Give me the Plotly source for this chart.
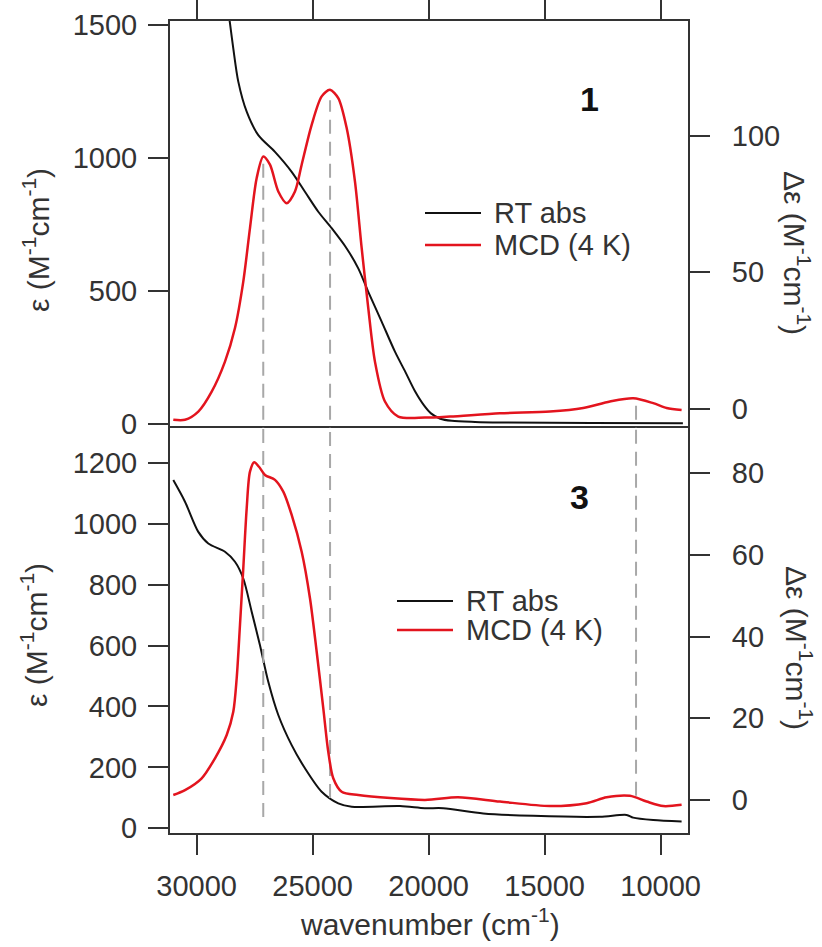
import plotly.graph_objects as go

# ---------------- data ----------------
# Panel 1 : RT absorption (left axis, eps) and MCD 4 K (right axis, delta eps)
abs1_wn = [28650, 28564, 28422, 28206, 27844, 27344, 26625, 25905, 25332, 24758,
           24181, 23534, 23034, 22603, 22026, 21453, 21000, 20600, 20200, 19900,
           19500, 19000, 18000, 16927, 13000, 9040]
abs1_eps = [1560, 1506, 1412, 1287, 1174, 1086, 1023, 948, 873, 798,
            736, 660, 585, 497, 385, 272, 195, 125, 70, 40,
            20, 12, 8, 6, 4, 3]

mcd1_wn = [31008, 30504, 29930, 29353, 28780, 28349, 27991, 27702, 27413, 27129,
           26840, 26482, 26120, 25763, 25474, 25043, 24612, 24254, 23896, 23534,
           23177, 22888, 22603, 22315, 21884, 21310, 20160, 19082, 16927, 14772,
           13337, 12186, 11182, 10320, 9742, 9096]
mcd1_de = [-4.0, -4.0, -1.0, 6.3, 17.3, 29.6, 46.6, 66.2, 84.5, 92.4,
           89.4, 79.6, 75.3, 79.6, 89.4, 104.0, 114.4, 116.8, 113.8, 102.8,
           83.3, 58.9, 36.9, 17.3, 2.7, -2.8, -3.2, -2.8, -1.6, -1.0,
           0.3, 2.7, 3.9, 2.1, 0.3, -0.4]

# Panel 3
abs3_wn = [31008, 30504, 29930, 29499, 28780, 28349, 27991, 27629, 27271, 26913,
           26482, 25905, 25332, 24612, 23896, 23319, 21237, 20160, 19370, 17646,
           15492, 12617, 11466, 11182, 10320, 9096]
abs3_eps = [1143, 1072, 973, 935, 908, 875, 820, 711, 601, 481,
            372, 273, 197, 120, 82, 71, 73, 66, 66, 49,
            41, 38, 44, 35, 27, 22]

mcd3_wn = [31008, 30504, 29784, 29210, 28706, 28422, 28275, 28133, 27991, 27844,
           27702, 27517, 27314, 27056, 26625, 26267, 25905, 25474, 25116, 24827,
           24543, 24327, 24112, 23750, 23034, 20160, 18740, 16927, 14772, 13190,
           12328, 11324, 10604, 9888, 9096]
mcd3_de = [1.2, 2.4, 5.3, 10.2, 15.9, 21.6, 29.8, 42.9, 56.7, 71.4,
           80.4, 82.7, 81.6, 79.6, 78.4, 75.5, 69.8, 60.8, 49.4, 36.3,
           22.5, 11.8, 5.3, 2.0, 1.2, 0.0, 0.65, -0.4, -1.5, -0.8,
           0.65, 1.0, -0.4, -1.5, -1.2]

# vertical guide lines (wavenumbers) and their ends (delta eps)
guide_wn = [27130, 24250, 11060]
guide1_top = [92.4, 113.0, 2.6]
guide3_end = [-4.2, 0.5, 1.0]

x_ticks = [30000, 25000, 20000, 15000, 10000]
x_ticktext = ["30000", "25000", "20000", "15000", "10000"]
y1_ticks = [0, 500, 1000, 1500]
y2_ticks = [0, 50, 100]
y3_ticks = [0, 200, 400, 600, 800, 1000, 1200]
y4_ticks = [0, 20, 40, 60, 80]

legend_labels = ["RT abs", "MCD (4 K)"]
panel_labels = ["1", "3"]

# ---------------- styling / geometry ----------------
W, H = 822, 947
L, R, T, B = 170, 688, 21, 833          # plot frame in pixels
MID = 428                                # border between the panels
FONT = "Liberation Sans, Arial, sans-serif"
TXT = "#333333"
AX = "#333333"
BLACK = "#111111"
RED = "#e3141e"
GUIDE = "#a8a8a8"

x_range = [31150, 8820]
y1_range = [-15, 1515]
y2_range = [-7, 142]
y3_range = [-15.4, 1314]
y4_range = [-8.1, 91.1]

def px_x(p):
    return (p - L) / (R - L)

def px_y(p):
    return (B - p) / (B - T)

split = px_y(MID)

fig = go.Figure()

# guide lines
for wn, top in zip(guide_wn, guide1_top):
    fig.add_trace(go.Scatter(x=[wn, wn], y=[y2_range[0] - 5, top], mode="lines",
                             line=dict(color=GUIDE, width=2, dash="14px,8px"),
                             xaxis="x2", yaxis="y2", showlegend=False, hoverinfo="skip"))
for wn, end in zip(guide_wn, guide3_end):
    fig.add_trace(go.Scatter(x=[wn, wn], y=[end, y4_range[1] + 5], mode="lines",
                             line=dict(color=GUIDE, width=2, dash="14px,8px"),
                             xaxis="x", yaxis="y4", showlegend=False, hoverinfo="skip"))

# spectra
fig.add_trace(go.Scatter(x=abs1_wn, y=abs1_eps, mode="lines", name=legend_labels[0],
                         line=dict(color=BLACK, width=2, shape="spline", smoothing=0.8),
                         xaxis="x2", yaxis="y", showlegend=False))
fig.add_trace(go.Scatter(x=mcd1_wn, y=mcd1_de, mode="lines", name=legend_labels[1],
                         line=dict(color=RED, width=2.5, shape="spline", smoothing=0.8),
                         xaxis="x2", yaxis="y2", showlegend=False))
fig.add_trace(go.Scatter(x=abs3_wn, y=abs3_eps, mode="lines", name=legend_labels[0],
                         line=dict(color=BLACK, width=2, shape="spline", smoothing=0.8),
                         xaxis="x", yaxis="y3", showlegend=False))
fig.add_trace(go.Scatter(x=mcd3_wn, y=mcd3_de, mode="lines", name=legend_labels[1],
                         line=dict(color=RED, width=2.5, shape="spline", smoothing=0.8),
                         xaxis="x", yaxis="y4", showlegend=False))

tickfont = dict(family=FONT, size=29, color=TXT)
common = dict(showgrid=False, zeroline=False, showline=True, linewidth=2, linecolor=AX,
              ticks="outside", ticklen=20, tickwidth=2, tickcolor=AX, tickfont=tickfont,
              automargin=False)

fig.update_layout(
    template="none",
    width=W, height=H,
    margin=dict(l=L, r=W - R, t=T, b=H - B, pad=0),
    paper_bgcolor="white", plot_bgcolor="white",
    showlegend=False,
    xaxis=dict(domain=[0, 1], anchor="y3", range=x_range, tickvals=x_ticks,
               ticktext=x_ticktext, ticklabelstandoff=6, mirror=True, **common),
    xaxis2=dict(domain=[0, 1], anchor="y", range=x_range, matches="x", side="top",
                tickvals=x_ticks, showticklabels=False, mirror=False, **common),
    yaxis=dict(domain=[split, 1], anchor="x2", range=y1_range, tickvals=y1_ticks,
               ticklabelstandoff=5, **common),
    yaxis2=dict(domain=[split, 1], anchor="x2", overlaying="y", side="right",
                range=y2_range, tickvals=y2_ticks, ticklabelstandoff=16, **common),
    yaxis3=dict(domain=[0, split], anchor="x", range=y3_range, tickvals=y3_ticks,
                ticklabelstandoff=5, **common),
    yaxis4=dict(domain=[0, split], anchor="x", overlaying="y3", side="right",
                range=y4_range, tickvals=y4_ticks, ticklabelstandoff=16, **common),
)

ann = []
unit = "(M<sup>-1</sup>cm<sup>-1</sup>)"
title_font = dict(family=FONT, size=30, color=TXT)
# axis titles
ann.append(dict(text="wavenumber (cm<sup>-1</sup>)", x=px_x(430), y=px_y(922),
                xref="paper", yref="paper", showarrow=False, font=title_font,
                xanchor="center", yanchor="middle"))
ann.append(dict(text="ε " + unit, x=px_x(36), y=px_y(240), xref="paper", yref="paper",
                showarrow=False, font=title_font, textangle=-90,
                xanchor="center", yanchor="middle"))
ann.append(dict(text="ε " + unit, x=px_x(34), y=px_y(635), xref="paper", yref="paper",
                showarrow=False, font=title_font, textangle=-90,
                xanchor="center", yanchor="middle"))
ann.append(dict(text="Δε " + unit, x=px_x(797), y=px_y(253), xref="paper", yref="paper",
                showarrow=False, font=title_font, textangle=90,
                xanchor="center", yanchor="middle"))
ann.append(dict(text="Δε " + unit, x=px_x(799), y=px_y(648), xref="paper", yref="paper",
                showarrow=False, font=title_font, textangle=90,
                xanchor="center", yanchor="middle"))
# panel labels
lab_font = dict(family=FONT, size=34, color="#111111")
ann.append(dict(text="<b>" + panel_labels[0] + "</b>", x=px_x(589), y=px_y(99),
                xref="paper", yref="paper", showarrow=False, font=lab_font,
                xanchor="center", yanchor="middle"))
ann.append(dict(text="<b>" + panel_labels[1] + "</b>", x=px_x(579), y=px_y(497),
                xref="paper", yref="paper", showarrow=False, font=lab_font,
                xanchor="center", yanchor="middle"))

# legends (drawn manually so the sample line length matches)
shapes = []
leg_font = dict(family=FONT, size=29, color=TXT)
for (x0, x1, xt, ys) in [(425, 481, 492, (213, 245)), (397, 453, 464, (601, 630))]:
    for lab, col, yy in zip(legend_labels, [BLACK, RED], ys):
        shapes.append(dict(type="line", xref="paper", yref="paper",
                           x0=px_x(x0), x1=px_x(x1), y0=px_y(yy), y1=px_y(yy),
                           line=dict(color=col, width=2.5 if col == RED else 2)))
        ann.append(dict(text=lab, x=px_x(xt), y=px_y(yy), xref="paper", yref="paper",
                        showarrow=False, font=leg_font, xanchor="left", yanchor="middle"))

fig.update_layout(annotations=ann, shapes=shapes)
fig.write_html("out.html")
